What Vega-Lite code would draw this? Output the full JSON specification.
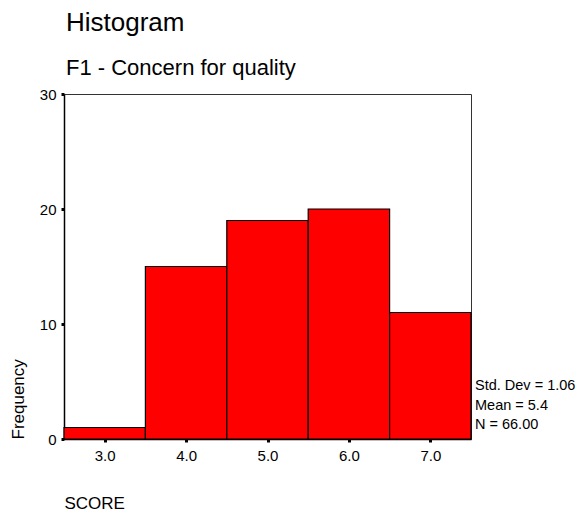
{
  "$schema": "https://vega.github.io/schema/vega-lite/v6.json",
  "width": 407,
  "height": 345,
  "autosize": "none",
  "padding": {"left": 64, "top": 94, "right": 107, "bottom": 78},
  "background": "white",
  "config": {
    "view": {"stroke": "#333333", "strokeWidth": 1},
    "font": "Liberation Sans"
  },
  "title": {
    "text": "Histogram",
    "subtitle": "F1 - Concern for quality",
    "anchor": "start",
    "frame": "group",
    "font": "Liberation Sans",
    "subtitleFont": "Liberation Sans",
    "fontSize": 26,
    "fontWeight": "normal",
    "subtitleFontSize": 22,
    "color": "#000000",
    "subtitleColor": "#000000",
    "subtitlePadding": 22,
    "offset": 8,
    "dx": 2
  },
  "layer": [
    {
      "data": {
        "values": [
          {"bin_start": 2.5, "bin_end": 3.5, "count": 1},
          {"bin_start": 3.5, "bin_end": 4.5, "count": 15},
          {"bin_start": 4.5, "bin_end": 5.5, "count": 19},
          {"bin_start": 5.5, "bin_end": 6.5, "count": 20},
          {"bin_start": 6.5, "bin_end": 7.5, "count": 11}
        ]
      },
      "mark": {"type": "rect", "fill": "#ff0000", "stroke": "#000000", "strokeWidth": 1.2},
      "encoding": {
        "x": {
          "field": "bin_start",
          "type": "quantitative",
          "scale": {"domain": [2.5, 7.5], "nice": false, "zero": false},
          "axis": {
            "title": "SCORE",
            "values": [3, 4, 5, 6, 7],
            "format": ".1f",
            "grid": false,
            "domain": true,
            "domainColor": "#000000",
            "domainWidth": 1.5,
            "ticks": true,
            "tickColor": "#000000",
            "tickSize": 3,
            "tickWidth": 3,
            "labelFontSize": 15,
            "labelColor": "#000000",
            "labelPadding": 6,
            "titleFontSize": 17,
            "titleFontWeight": "normal",
            "titleColor": "#000000",
            "titleAnchor": "start",
            "titleAlign": "left",
            "titleX": 0,
            "titleY": 69,
            "titleBaseline": "alphabetic"
          }
        },
        "x2": {"field": "bin_end"},
        "y": {
          "field": "count",
          "type": "quantitative",
          "scale": {"domain": [0, 30], "nice": false},
          "axis": {
            "title": "Frequency",
            "values": [0, 10, 20, 30],
            "grid": false,
            "domain": true,
            "domainColor": "#000000",
            "domainWidth": 1.5,
            "ticks": true,
            "tickColor": "#000000",
            "tickSize": 3,
            "tickWidth": 3,
            "labelFontSize": 15,
            "labelColor": "#000000",
            "labelPadding": 5,
            "titleFontSize": 17,
            "titleFontWeight": "normal",
            "titleColor": "#000000",
            "titleAngle": -90,
            "titleAlign": "left",
            "titleBaseline": "middle",
            "titleX": -46,
            "titleY": 345
          }
        },
        "y2": {"datum": 0}
      }
    },
    {
      "data": {
        "values": [
          {"label": "Std. Dev = 1.06", "xpos": 7.5, "ypos": 4.6},
          {"label": "Mean = 5.4", "xpos": 7.5, "ypos": 2.9},
          {"label": "N = 66.00", "xpos": 7.5, "ypos": 1.2}
        ]
      },
      "mark": {"type": "text", "align": "left", "baseline": "middle", "dx": 4, "fontSize": 14.5, "color": "#000000", "clip": false},
      "encoding": {
        "x": {"field": "xpos", "type": "quantitative"},
        "y": {"field": "ypos", "type": "quantitative"},
        "text": {"field": "label"}
      }
    }
  ]
}
